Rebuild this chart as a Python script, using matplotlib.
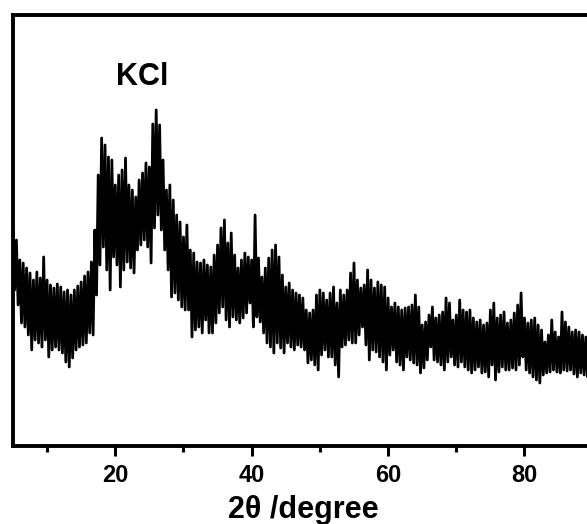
import numpy as np
import matplotlib
matplotlib.use("Agg")
import matplotlib.pyplot as plt
from matplotlib.ticker import MultipleLocator

plt.rcParams['font.family'] = ['Liberation Sans', 'DejaVu Sans']
plt.rcParams['font.weight'] = 'bold'

# scan grid (2theta, degrees), upper and lower values of the noisy trace (a.u.)
two_theta = np.arange(5, 90, 0.5)
step = 0.25

upper = [223, 206, 186, 183, 178, 173, 166, 174, 168, 189,
         166, 161, 158, 162, 159, 154, 156, 151, 156, 160,
         164, 170, 174, 184, 216, 271, 308, 301, 289, 286,
         261, 271, 276, 288, 261, 256, 249, 266, 273, 283,
         279, 322, 336, 321, 286, 256, 261, 246, 231, 224,
         209, 221, 196, 193, 184, 183, 186, 181, 179, 191,
         201, 218, 226, 203, 213, 191, 178, 186, 193, 189,
         186, 231, 188, 169, 178, 188, 196, 201, 189, 171,
         159, 163, 156, 153, 151, 148, 136, 133, 136, 151,
         156, 153, 146, 153, 159, 143, 156, 151, 156, 173,
         183, 166, 158, 161, 176, 166, 158, 164, 161, 159,
         148, 139, 143, 139, 136, 138, 139, 141, 151, 139,
         121, 124, 131, 139, 128, 131, 134, 148, 143, 126,
         131, 146, 136, 134, 136, 128, 124, 126, 121, 123,
         136, 143, 128, 131, 134, 123, 126, 133, 141, 153,
         128, 123, 126, 128, 121, 116, 104, 111, 126, 114,
         109, 134, 124, 119, 114, 116, 114, 111, 109, 109]

lower = [156, 141, 123, 119, 111, 96, 106, 103, 99, 106,
         89, 96, 99, 96, 93, 84, 79, 88, 96, 99,
         101, 103, 113, 111, 151, 181, 199, 176, 156, 189,
         181, 159, 176, 184, 178, 173, 196, 201, 206, 199,
         183, 218, 231, 216, 196, 176, 149, 153, 146, 139,
         136, 136, 109, 116, 119, 113, 126, 113, 113, 123,
         133, 139, 126, 119, 129, 126, 123, 128, 133, 143,
         119, 129, 124, 113, 103, 99, 93, 103, 98, 93,
         103, 99, 96, 101, 99, 96, 83, 86, 81, 76,
         91, 96, 89, 89, 81, 69, 99, 101, 106, 103,
         103, 111, 119, 101, 86, 96, 94, 89, 84, 76,
         91, 96, 84, 81, 76, 89, 86, 83, 81, 73,
         78, 86, 99, 86, 84, 81, 76, 84, 89, 81,
         79, 84, 79, 76, 73, 76, 79, 73, 74, 69,
         81, 66, 74, 79, 76, 76, 78, 76, 81, 89,
         76, 73, 69, 66, 63, 71, 73, 74, 76, 74,
         73, 76, 75, 76, 72, 69, 73, 71, 69, 70]

# interleave into one trace
x = np.column_stack([two_theta, two_theta + step]).ravel()
y = np.column_stack([upper, lower]).ravel()

fig = plt.figure(figsize=(5.87, 5.24), dpi=100)
ax = fig.add_axes([0.0221, 0.1489, 0.9876, 0.8225])
ax.plot(x, y, color='black', linewidth=2.0)

ax.set_xlim(5, 90)
ax.set_ylim(0, 431)
ax.xaxis.set_major_locator(MultipleLocator(20))
ax.xaxis.set_minor_locator(MultipleLocator(10))
ax.set_yticks([])
ax.tick_params(axis='x', which='major', direction='out', length=7, width=2.2,
               labelsize=17, pad=6)
ax.tick_params(axis='x', which='minor', direction='out', length=4, width=2.2)
for s in ax.spines.values():
    s.set_linewidth(2.8)

ax.set_xlabel('2θ /degree', fontsize=22, fontweight='bold', labelpad=6)
ax.text(23.9, 369, 'KCl', fontsize=22, fontweight='bold', ha='center', va='center')

fig.savefig('out.png', dpi=100)
